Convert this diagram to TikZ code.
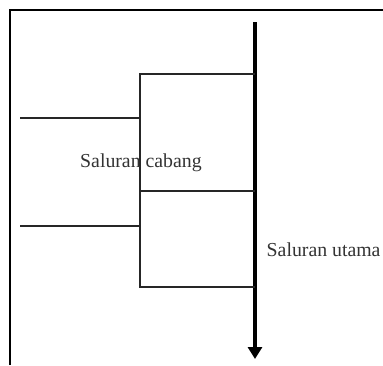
\documentclass[tikz,border=0pt]{standalone}
\usepackage{fontspec}
\setmainfont{Liberation Serif}
\usetikzlibrary{arrows.meta}
\begin{document}
\begin{tikzpicture}[x=1pt,y=-1pt,
  thin line/.style={line width=1.1pt,draw=black!85},
  main line/.style={line width=3.2pt,draw=black,-{Triangle[length=12pt,width=14pt]}},
  lbl/.style={font=\fontsize{19.8}{24}\selectfont,inner sep=0pt,text=black!80}]
\useasboundingbox (0,0) rectangle (383,365);
% frame
\draw[line width=1.2pt] (10,365) -- (10,10) -- (383,10);
% main channel
\coordinate (mtop) at (255,22);
\coordinate (mbot) at (255,359);
\draw[main line] (mtop) -- (mbot);
% branch channel
\coordinate (b1) at (255,74);
\coordinate (b2) at (140,74);
\coordinate (b3) at (140,287);
\coordinate (b4) at (255,287);
\draw[thin line] (b1) -- (b2) -- (b3) -- (b4);
\coordinate (m1) at (140,191);
\coordinate (m2) at (255,191);
\draw[thin line] (m1) -- (m2);
\coordinate (l1a) at (20,118);
\coordinate (l1b) at (140,118);
\draw[thin line] (l1a) -- (l1b);
\coordinate (l2a) at (20,226);
\coordinate (l2b) at (140,226);
\draw[thin line] (l2a) -- (l2b);
% labels
\node[lbl,anchor=west] (cab) at (80,163) {Saluran cabang};
\node[lbl,anchor=west] (uta) at (266.5,250) {Saluran utama};
\end{tikzpicture}
\end{document}
